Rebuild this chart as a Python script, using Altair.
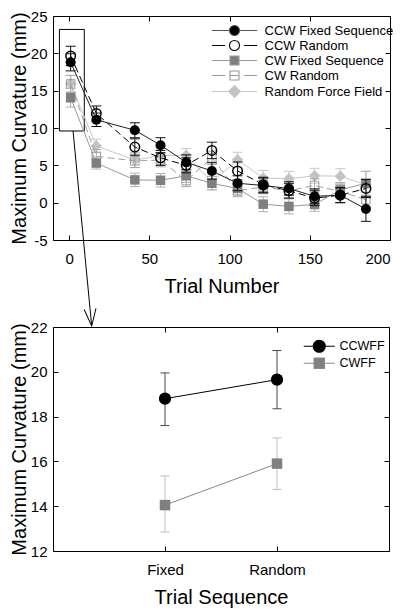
import altair as alt
import pandas as pd

# ---------------- top panel data ----------------
trials = [1, 17, 41, 57, 73, 89, 105, 121, 137, 153, 169, 185]
series_names = ["CCW Fixed Sequence", "CCW Random", "CW Fixed Sequence", "CW Random", "Random Force Field"]
ccw_fixed = [18.8, 11.1, 9.7, 7.7, 5.4, 4.25, 2.6, 2.3, 1.9, 0.85, 1.0, -0.85]
ccw_fixed_se = [1.15, 0.9, 1.0, 1.0, 1.0, 1.1, 1.0, 1.0, 0.9, 1.0, 1.0, 1.65]
ccw_random = [19.65, 11.95, 7.45, 6.0, 5.0, 7.0, 4.25, 2.4, 1.6, 0.6, 1.0, 1.9]
ccw_random_se = [1.3, 1.0, 1.1, 1.0, 1.0, 1.1, 1.2, 1.0, 1.0, 1.0, 1.0, 1.2]
cw_fixed = [14.05, 5.3, 3.05, 3.0, 3.6, 2.6, 1.9, -0.2, -0.5, -0.25, 1.7, 2.6]
cw_fixed_se = [1.25, 0.8, 0.9, 0.9, 0.9, 0.9, 0.9, 1.0, 1.0, 0.9, 1.0, 1.6]
cw_random = [15.9, 6.2, 5.6, 5.7, 2.95, 6.0, 1.6, 2.1, 1.6, 2.3, 1.5, 0.4]
cw_random_se = [1.15, 0.9, 0.9, 0.9, 0.8, 0.9, 0.8, 0.9, 0.9, 0.9, 0.9, 1.0]
rff = [15.95, 7.6, 5.7, 6.3, 6.35, 2.75, 5.75, 3.3, 3.2, 3.6, 3.55, 2.4]
rff_se = [1.1, 0.9, 1.0, 1.0, 0.9, 1.0, 1.0, 1.0, 1.0, 1.0, 1.0, 1.8]

x_ticks_top = [0, 50, 100, 150, 200]
y_ticks_top = [-5, 0, 5, 10, 15, 20, 25]

# zoom box and arrow (annotation, in top-panel data units)
zoom_box_x = [-6, 9.5]
zoom_box_y = [9.6, 23.2]
arrow_x = [2.5, 14.1]
arrow_y = [9.6, -16.5]

# ---------------- bottom panel data ----------------
sequences = ["Fixed", "Random"]
bottom_series = ["CCWFF", "CWFF"]
ccwff = [18.8, 19.65]
ccwff_lo = [17.6, 18.35]
ccwff_hi = [19.95, 20.95]
cwff = [14.05, 15.9]
cwff_lo = [12.85, 14.75]
cwff_hi = [15.35, 17.05]
y_ticks_bottom = [12, 14, 16, 18, 20, 22]

FONT = "Liberation Sans"

top_vals = {
    "CCW Fixed Sequence": (ccw_fixed, ccw_fixed_se),
    "CCW Random": (ccw_random, ccw_random_se),
    "CW Fixed Sequence": (cw_fixed, cw_fixed_se),
    "CW Random": (cw_random, cw_random_se),
    "Random Force Field": (rff, rff_se),
}
rows = []
for name, (m, se) in top_vals.items():
    for t, v, e in zip(trials, m, se):
        rows.append({"series": name, "trial": t, "mean": v, "lo": v - e, "hi": v + e})
df_top = pd.DataFrame(rows)

bot_vals = {"CCWFF": (ccwff, ccwff_lo, ccwff_hi), "CWFF": (cwff, cwff_lo, cwff_hi)}
rows = []
for name, (m, lo, hi) in bot_vals.items():
    for s, v, a, b in zip(sequences, m, lo, hi):
        rows.append({"grp": name, "seq": s, "mean": v, "lo": a, "hi": b})
df_bot = pd.DataFrame(rows)

# ---------------- styles ----------------
top_style = {
    "Random Force Field": dict(shape="diamond", size=130, filled=True, color="#c3c3c3", sw=1, line="#c8c8c8", dash=None, err="#c8c8c8"),
    "CW Random": dict(shape="square", size=72, filled=False, color="#9a9a9a", sw=1, line="#a0a0a0", dash=[7, 4], err="#a8a8a8"),
    "CW Fixed Sequence": dict(shape="square", size=90, filled=True, color="#7f7f7f", sw=1, line="#999999", dash=None, err="#b0b0b0"),
    "CCW Random": dict(shape="circle", size=90, filled=False, color="#000000", sw=1.5, line="#000000", dash=[7, 4], err="#111111"),
    "CCW Fixed Sequence": dict(shape="circle", size=100, filled=True, color="#000000", sw=1, line="#222222", dash=None, err="#111111"),
}
bot_style = {
    "CWFF": dict(shape="square", size=110, filled=True, color="#808080", sw=1, line="#888888", dash=None, err="#c0c0c0"),
    "CCWFF": dict(shape="circle", size=150, filled=True, color="#000000", sw=1, line="#000000", dash=None, err="#4a4a4a"),
}


def series_layers(sdf, xenc, ys, st, cap_size):
    yenc = alt.Y("mean:Q", scale=ys, axis=None)
    err = alt.Chart(sdf).mark_rule(color=st["err"], strokeWidth=1).encode(
        x=xenc, y=alt.Y("lo:Q", scale=ys, axis=None), y2="hi:Q")
    caps = alt.Chart(sdf).transform_fold(["lo", "hi"], as_=["end", "v"]).mark_point(
        shape="stroke", size=cap_size, filled=False, color=st["err"], strokeWidth=1, opacity=1
    ).encode(x=xenc, y=alt.Y("v:Q", scale=ys, axis=None))
    if st["dash"]:
        line = alt.Chart(sdf).mark_line(color=st["line"], strokeWidth=1, strokeDash=st["dash"])
    else:
        line = alt.Chart(sdf).mark_line(color=st["line"], strokeWidth=1)
    line = line.encode(x=xenc, y=yenc)
    pts = alt.Chart(sdf).mark_point(
        shape=st["shape"], size=st["size"], filled=st["filled"], color=st["color"],
        strokeWidth=st["sw"], opacity=1
    ).encode(x=xenc, y=yenc)
    return [err, caps, line, pts]


def circle_path(r):
    return f"M{-r},0A{r},{r} 0 1,0 {r},0A{r},{r} 0 1,0 {-r},0Z"


def square_path(h):
    return f"M{-h},{-h}L{h},{-h}L{h},{h}L{-h},{h}Z"


def diamond_path(h):
    return f"M0,{-h}L{h},0L0,{h}L{-h},0Z"


# ---------------- top panel ----------------
xs_top = alt.Scale(domain=[-10, 200], nice=False, zero=False)
ys_top = alt.Scale(domain=[-5, 25], nice=False, zero=False)
x_top = alt.X("trial:Q", scale=xs_top, axis=None)

top_layers = []
axis_main = alt.Chart(df_top).mark_point(opacity=0).encode(
    x=alt.X("trial:Q", scale=xs_top, axis=alt.Axis(
        orient="bottom", values=x_ticks_top, title="Trial Number", offset=-5, tickSize=5,
        domain=False, labelPadding=11, titlePadding=10, labelFlush=True, labelExpr="datum.value")),
    y=alt.Y("mean:Q", scale=ys_top, axis=alt.Axis(
        orient="left", values=y_ticks_top, title="Maximum Curvature (mm)", offset=-5, tickSize=5,
        domain=False, labelPadding=6, titlePadding=1, labelFlush=False, labelExpr="datum.value")),
)
axis_mirror = alt.Chart(df_top).mark_point(opacity=0).encode(
    x=alt.X("trial:Q", scale=xs_top, axis=alt.Axis(
        orient="top", values=x_ticks_top, title=None, labels=False, offset=-5, tickSize=5, domain=False)),
    y=alt.Y("mean:Q", scale=ys_top, axis=alt.Axis(
        orient="right", values=y_ticks_top, title=None, labels=False, offset=-5, tickSize=5, domain=False)),
)
top_layers += [axis_main, axis_mirror]

box_df = pd.DataFrame({"x1": [zoom_box_x[0]], "x2": [zoom_box_x[1]], "y1": [zoom_box_y[0]], "y2": [zoom_box_y[1]]})
box = alt.Chart(box_df).mark_rect(fill="transparent", stroke="black", strokeWidth=1).encode(
    x=alt.X("x1:Q", scale=xs_top, axis=None), x2="x2:Q",
    y=alt.Y("y1:Q", scale=ys_top, axis=None), y2="y2:Q")
arrow_df = pd.DataFrame({"x1": [arrow_x[0]], "x2": [arrow_x[1]], "y1": [arrow_y[0]], "y2": [arrow_y[1]]})
arrow_line = alt.Chart(arrow_df).mark_rule(color="black", strokeWidth=1, clip=False).encode(
    x=alt.X("x1:Q", scale=xs_top, axis=None), x2="x2:Q",
    y=alt.Y("y1:Q", scale=ys_top, axis=None), y2="y2:Q")
arrow_head = alt.Chart(arrow_df).mark_point(
    shape="M-0.35,-1L0,0L0.35,-1", size=1156, filled=False, color="black", strokeWidth=1,
    opacity=1, angle=354.6, clip=False
).encode(x=alt.X("x2:Q", scale=xs_top, axis=None), y=alt.Y("y2:Q", scale=ys_top, axis=None))
top_layers += [box, arrow_line, arrow_head]

for name in ["Random Force Field", "CW Random", "CW Fixed Sequence", "CCW Random", "CCW Fixed Sequence"]:
    sdf = df_top[df_top["series"] == name]
    top_layers += series_layers(sdf, x_top, ys_top, top_style[name], 100)

# legend (top): line-through-marker symbols built as custom paths
U = 4.1
rc, rs, rd = 0.91, 0.82, 1.09
solid_c = f"M{-U},0L{-rc},0M{rc},0L{U},0"
solid_s = f"M{-U},0L{-rs},0M{rs},0L{U},0"
solid_d = f"M{-U},0L{-rd},0M{rd},0L{U},0"
dashed = f"M{-U},0L-1.7,0M1.7,0L{U},0"
top_paths = [
    solid_c + circle_path(rc),
    dashed + circle_path(rc),
    solid_s + square_path(rs),
    dashed + f"M{-rs},0L{rs},0" + square_path(rs),
    solid_d + diamond_path(rd),
]
top_fills = ["#000000", "transparent", "#7f7f7f", "transparent", "#c3c3c3"]
top_strokes = ["#555555", "#000000", "#9a9a9a", "#9a9a9a", "#c8c8c8"]
leg_top = alt.Legend(title=None, orient="none", legendX=158.5, legendY=8, padding=0,
                     symbolSize=121, symbolStrokeWidth=1.1, symbolOffset=16.5, labelOffset=23.5,
                     labelFontSize=13, labelFont=FONT, labelColor="black", rowPadding=0)
legend_top_layer = alt.Chart(df_top).transform_filter("false").mark_point(opacity=1, strokeWidth=1.1).encode(
    shape=alt.Shape("series:N", scale=alt.Scale(domain=series_names, range=top_paths), legend=leg_top),
    fill=alt.Fill("series:N", scale=alt.Scale(domain=series_names, range=top_fills), legend=leg_top),
    stroke=alt.Stroke("series:N", scale=alt.Scale(domain=series_names, range=top_strokes), legend=leg_top),
)
top_layers.append(legend_top_layer)

top = alt.layer(*top_layers).resolve_axis(x="independent", y="independent").properties(width=337, height=224)

# ---------------- bottom panel ----------------
xs_bot = alt.Scale(type="point", domain=sequences, padding=1)
ys_bot = alt.Scale(domain=[12, 22], nice=False, zero=False)
x_bot = alt.X("seq:N", scale=xs_bot, axis=None)

bot_layers = []
b_axis_main = alt.Chart(df_bot).mark_point(opacity=0).encode(
    x=alt.X("seq:N", scale=xs_bot, axis=alt.Axis(
        orient="bottom", title="Trial Sequence", offset=-5, tickSize=5, domain=False,
        labelPadding=11, titlePadding=10, labelAngle=0)),
    y=alt.Y("mean:Q", scale=ys_bot, axis=alt.Axis(
        orient="left", values=y_ticks_bottom, title="Maximum Curvature (mm)", offset=-5, tickSize=5,
        domain=False, labelPadding=6, titlePadding=1, labelFlush=False)),
)
b_axis_mirror = alt.Chart(df_bot).mark_point(opacity=0).encode(
    x=alt.X("seq:N", scale=xs_bot, axis=alt.Axis(
        orient="top", title=None, labels=False, offset=-5, tickSize=5, domain=False)),
    y=alt.Y("mean:Q", scale=ys_bot, axis=alt.Axis(
        orient="right", values=y_ticks_bottom, title=None, labels=False, offset=-5, tickSize=5, domain=False)),
)
bot_layers += [b_axis_main, b_axis_mirror]
for name in ["CWFF", "CCWFF"]:
    sdf = df_bot[df_bot["grp"] == name]
    bot_layers += series_layers(sdf, x_bot, ys_bot, bot_style[name], 81)

V = 3.1
bot_paths = [
    f"M{-V},0L-1.2,0M1.2,0L{V},0" + circle_path(1.2),
    f"M{-V},0L-1.05,0M1.05,0L{V},0" + square_path(1.05),
]
bot_fills = ["#000000", "#808080"]
bot_strokes = ["#000000", "#8c8c8c"]
leg_bot = alt.Legend(title=None, orient="none", legendX=250, legendY=13, padding=0,
                     symbolSize=100, symbolStrokeWidth=1.1, symbolOffset=10, labelOffset=14,
                     labelFontSize=12.5, labelFont=FONT, labelColor="black", rowPadding=0)
legend_bot_layer = alt.Chart(df_bot).transform_filter("false").mark_point(opacity=1, strokeWidth=1.1).encode(
    shape=alt.Shape("grp:N", scale=alt.Scale(domain=bottom_series, range=bot_paths), legend=leg_bot),
    fill=alt.Fill("grp:N", scale=alt.Scale(domain=bottom_series, range=bot_fills), legend=leg_bot),
    stroke=alt.Stroke("grp:N", scale=alt.Scale(domain=bottom_series, range=bot_strokes), legend=leg_bot),
)
bot_layers.append(legend_bot_layer)

bottom = alt.layer(*bot_layers).resolve_axis(x="independent", y="independent").properties(width=336, height=224)

chart = alt.vconcat(top, bottom, spacing=87, bounds="flush").resolve_scale(
    shape="independent", fill="independent", stroke="independent"
).resolve_legend(
    shape="independent", fill="independent", stroke="independent"
).properties(
    padding={"left": 0, "top": 0, "right": 0, "bottom": 0}
).configure(font=FONT).configure_axis(
    labelFont=FONT, titleFont=FONT, labelFontSize=15, titleFontSize=20, titleFontWeight="normal",
    labelColor="black", titleColor="black", tickColor="black", grid=False
).configure_view(stroke="black", strokeWidth=1)

chart.save("out.html", embed_options={"renderer": "svg", "actions": False})
